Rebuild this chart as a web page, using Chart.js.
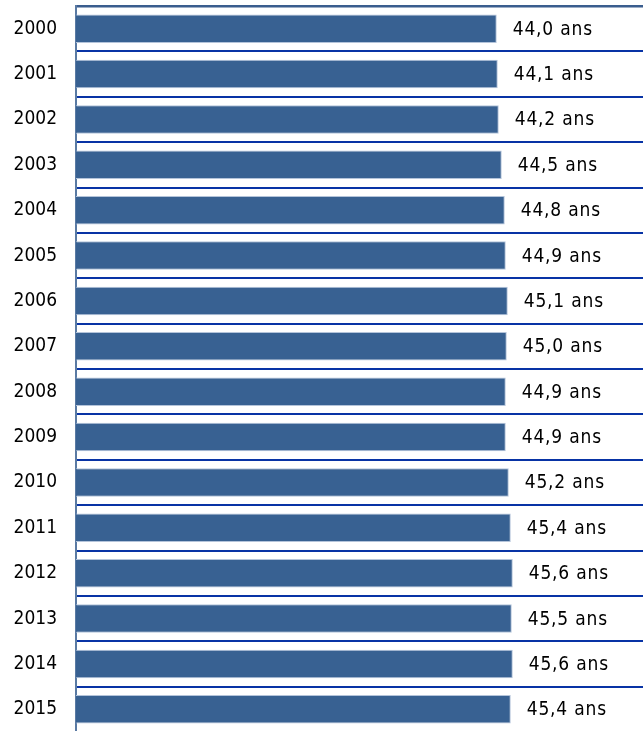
<!DOCTYPE html>
<html>
<head>
<meta charset="utf-8">
<script src="https://cdn.jsdelivr.net/npm/chart.js@4.4.1/dist/chart.umd.min.js"></script>
<style>
    html, body { margin: 0; padding: 0; background: #fff; overflow: hidden; }
    #boite { position: relative; width: 643px; height: 738px; }
</style>
</head>
<body>
<div id="boite"><canvas id="graphiqueAge"></canvas></div>
<script>
const annees = ['2000', '2001', '2002', '2003', '2004', '2005', '2006', '2007',
    '2008', '2009', '2010', '2011', '2012', '2013', '2014', '2015'];
const ageMoyen = [44.0, 44.1, 44.2, 44.5, 44.8, 44.9, 45.1, 45.0,
    44.9, 44.9, 45.2, 45.4, 45.6, 45.5, 45.6, 45.4];
const suffixe = ' ans';

const police = '"DejaVu Sans Condensed", "DejaVu Sans", sans-serif';

// etiquettes "44,0 ans" a droite des barres
const etiquettesValeurs = {
    id: 'etiquettesValeurs',
    afterDatasetsDraw(chart) {
        const ctx = chart.ctx;
        const meta = chart.getDatasetMeta(0);
        ctx.save();
        ctx.font = '19px ' + police;
        ctx.fillStyle = '#000';
        ctx.textAlign = 'left';
        ctx.textBaseline = 'middle';
        if ('letterSpacing' in ctx) ctx.letterSpacing = '0.8px';
        meta.data.forEach((barre, i) => {
            const txt = ageMoyen[i].toFixed(1).replace('.', ',') + suffixe;
            ctx.fillText(txt, barre.x + 16, barre.y + 1);
        });
        ctx.restore();
    }
};

new Chart(document.getElementById('graphiqueAge').getContext('2d'), {
    type: 'bar',
    data: {
        labels: annees,
        datasets: [{
            data: ageMoyen,
            backgroundColor: '#386192',
            borderColor: '#b4c4da',
            borderWidth: 1,
            borderSkipped: false,
            barPercentage: 1,
            categoryPercentage: 0.63
        }]
    },
    options: {
        indexAxis: 'y',
        responsive: true,
        maintainAspectRatio: false,
        animation: false,
        layout: { padding: { top: 6, bottom: 6, left: 0, right: 0 } },
        plugins: { legend: { display: false }, tooltip: { enabled: false } },
        scales: {
            x: { display: false, min: 2, max: 58.6 },
            y: {
                afterFit: s => { s.width = 76; s.paddingTop = 0; s.paddingBottom = 0; },
                border: { display: true, color: '#5a7aa3', width: 2 },
                grid: {
                    drawTicks: false,
                    color: c => c.index === 0 ? '#3a5d8e' : '#0833a5',
                    lineWidth: c => c.index === 0 ? 2.5 : 2
                },
                ticks: {
                    color: '#000',
                    padding: 19,
                    font: { family: police, size: 19 }
                }
            }
        }
    },
    plugins: [etiquettesValeurs]
});
</script>
</body>
</html>
